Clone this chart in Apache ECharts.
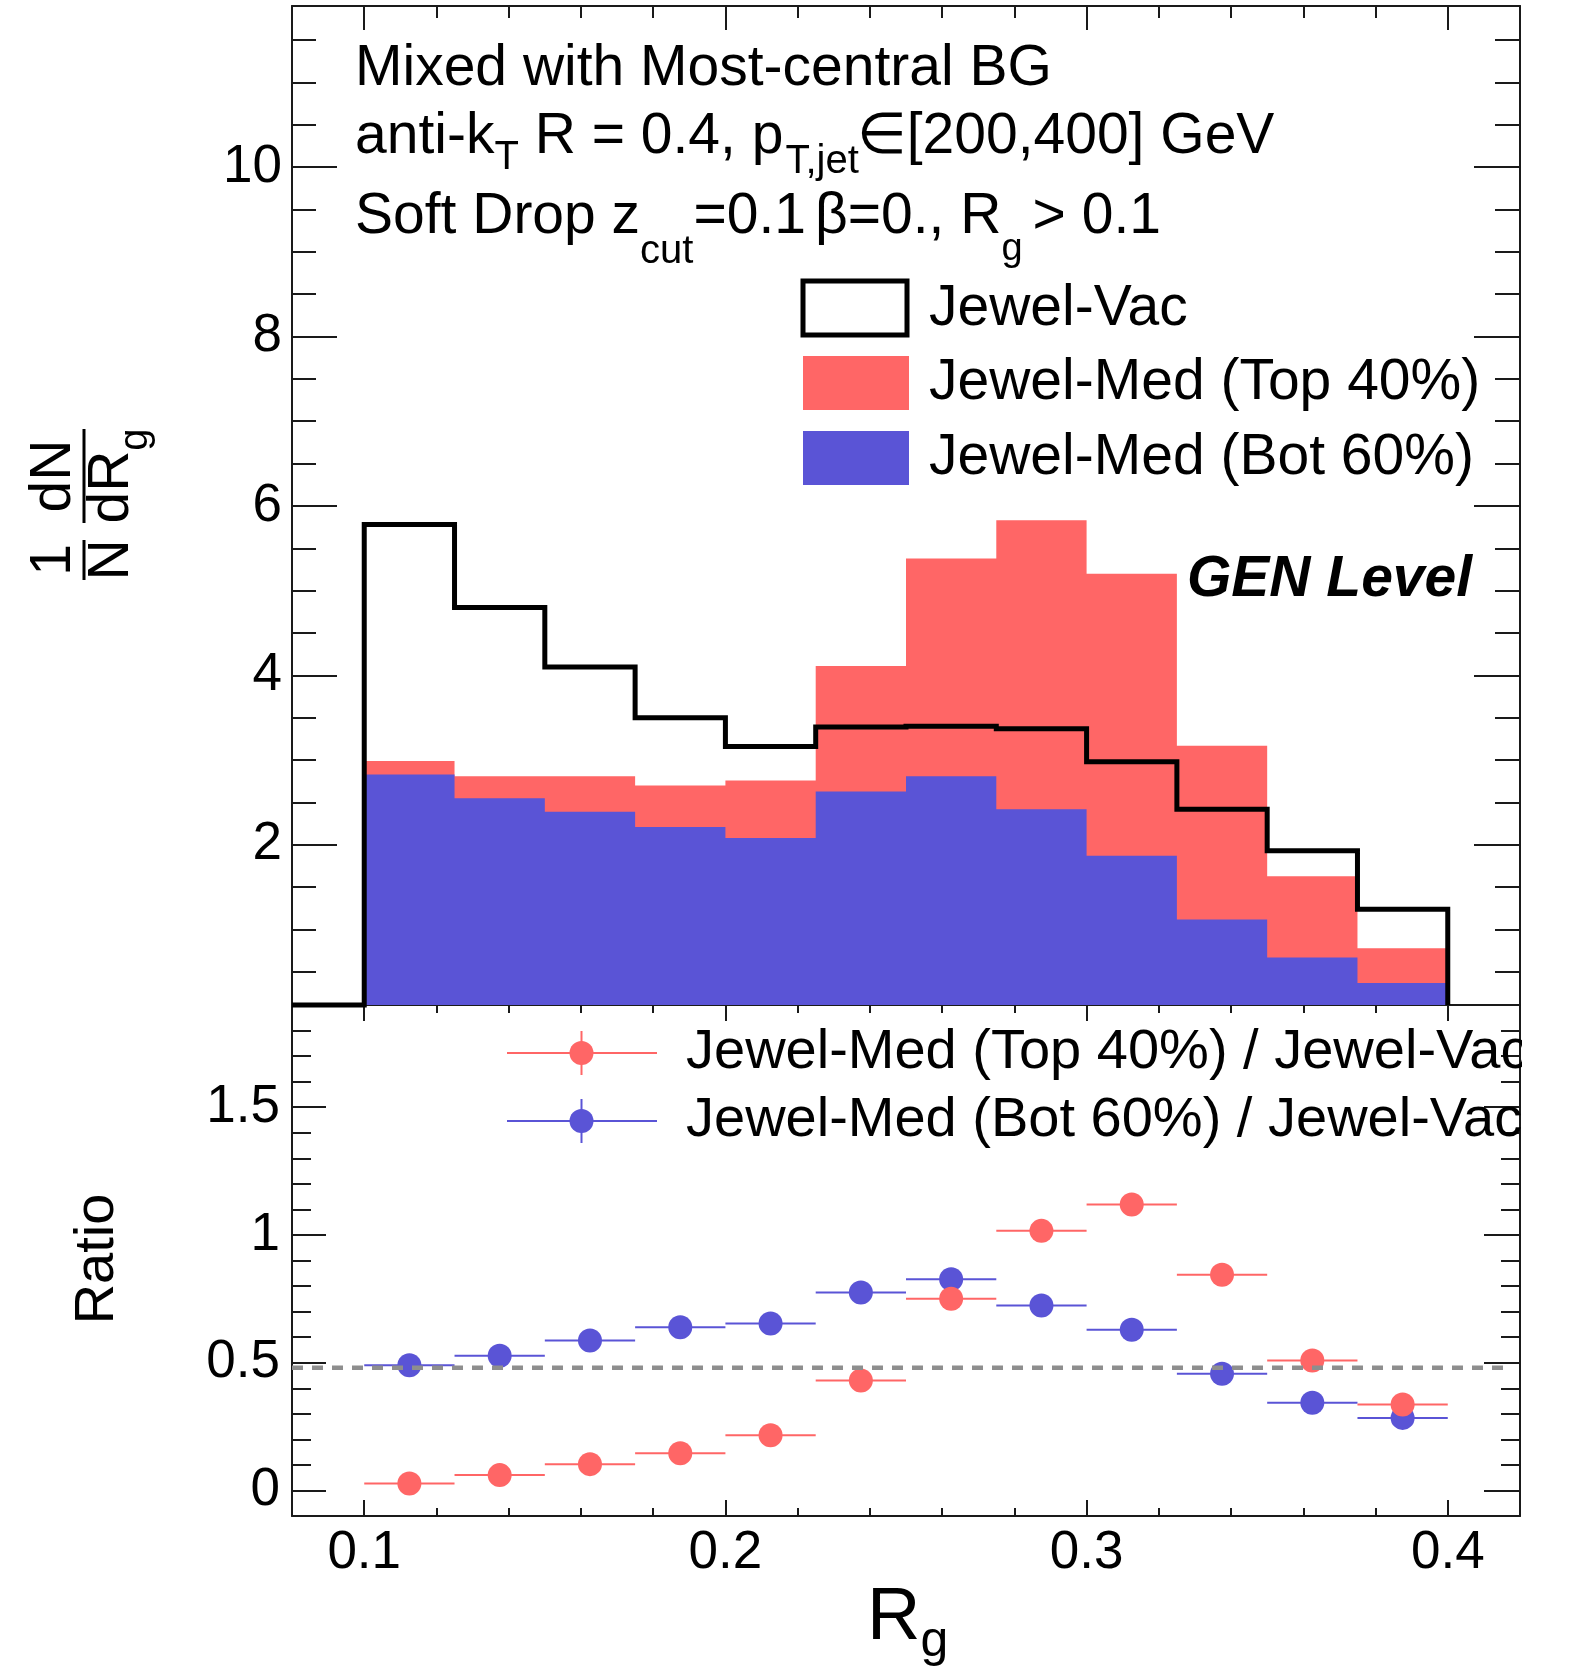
<!DOCTYPE html>
<html><head><meta charset="utf-8">
<script src="https://cdn.jsdelivr.net/npm/echarts@6/dist/echarts.min.js"></script>
<style>html,body{margin:0;padding:0;background:#fff}#c{width:1578px;height:1674px}</style>
</head><body><div id="c"></div>
<script>
// ---------------- DATA ----------------
const binEdges = [0.1, 0.125, 0.15, 0.175, 0.2, 0.225, 0.25, 0.275, 0.3, 0.325, 0.35, 0.375, 0.4];
const jewelVac      = [5.78, 4.80, 4.10, 3.50, 3.16, 3.39, 3.40, 3.37, 2.98, 2.42, 1.93, 1.24];
const jewelMedTop40 = [2.99, 2.81, 2.81, 2.70, 2.76, 4.11, 5.38, 5.83, 5.20, 3.17, 1.63, 0.78];
const jewelMedBot60 = [2.83, 2.55, 2.39, 2.21, 2.08, 2.63, 2.81, 2.42, 1.87, 1.12, 0.67, 0.37];
const ratioTop40 = [0.027, 0.060, 0.103, 0.146, 0.216, 0.430, 0.750, 1.016, 1.119, 0.844, 0.509, 0.336];
const ratioBot60 = [0.490, 0.527, 0.587, 0.639, 0.653, 0.775, 0.827, 0.724, 0.629, 0.457, 0.343, 0.284];
const refLineValue = 0.48;

const xTickLabels = [0.1, 0.2, 0.3, 0.4];
const xMinorTicks = [0.1, 0.12, 0.14, 0.16, 0.18, 0.2, 0.22, 0.24, 0.26, 0.28, 0.3, 0.32, 0.34, 0.36, 0.38, 0.4];
const yTopTickLabels = [2, 4, 6, 8, 10];
const yTopMinorTicks = [0.5, 1, 1.5, 2, 2.5, 3, 3.5, 4, 4.5, 5, 5.5, 6, 6.5, 7, 7.5, 8, 8.5, 9, 9.5, 10, 10.5, 11, 11.5];
const yRatioTickLabels = [0, 0.5, 1, 1.5];
const yRatioMinorTicks = [0, 0.1, 0.2, 0.3, 0.4, 0.5, 0.6, 0.7, 0.8, 0.9, 1, 1.1, 1.2, 1.3, 1.4, 1.5, 1.6, 1.7, 1.8];

const X_RANGE = [0.08, 0.42];
const Y_TOP_RANGE = [0.11, 11.9];
const Y_RATIO_RANGE = [-0.1, 1.9];

// ---------------- STYLE ----------------
const FONT = '"Liberation Sans", Arial, Helvetica, sans-serif';
const RED = '#ff6666', BLUE = '#5a54d6', FRAME = '#1a1a1a';
const mctx = document.createElement('canvas').getContext('2d');
function tw(t, size, weight, style) {
  mctx.font = (style || 'normal') + ' ' + (weight || 'normal') + ' ' + size + 'px ' + FONT;
  return mctx.measureText(t).width;
}
function txt(x, baseline, t, size, opts) {
  opts = opts || {};
  const fw = opts.weight || 'normal', fs = opts.style || 'normal';
  const k = opts.k !== undefined ? opts.k : 0.29;
  return {
    type: 'text', x: x, y: baseline - k * size, z: opts.z || 5, silent: true,
    style: {
      text: t, fill: '#000', font: fs + ' ' + fw + ' ' + size + 'px ' + FONT,
      fontSize: size, fontFamily: FONT, fontWeight: fw, fontStyle: fs,
      align: opts.align || 'left', verticalAlign: 'middle',
      textAlign: opts.align || 'left', textVerticalAlign: 'middle'
    }
  };
}
// segs: [text, size, dy, dxBefore]
function latexLine(x, baseline, segs) {
  const out = []; let cx = x;
  segs.forEach(function (s) {
    cx += (s[3] || 0);
    out.push(txt(cx, baseline + s[2], s[0], s[1]));
    cx += tw(s[0], s[1]);
  });
  return out;
}

// ---------------- AXES ----------------
function ax(gridIndex, position, range, o) {
  const isY = position === 'left' || position === 'right';
  return {
    type: 'value', gridIndex: gridIndex, position: position, min: range[0], max: range[1],
    splitLine: { show: false }, silent: true,
    axisLine: { show: !!o.line, onZero: false, lineStyle: { color: FRAME, width: 2 } },
    axisTick: o.ticks ? { show: true, inside: true, length: o.len, customValues: o.ticks, lineStyle: { color: FRAME, width: 2 } } : { show: false },
    axisLabel: o.labels ? { show: true, customValues: o.labels, fontFamily: FONT, fontSize: 53, color: '#000', margin: o.margin,
      padding: isY ? [7, 0, 0, 0] : [0, 0, 0, 0] } : { show: false }
  };
}
const xAxes = [
  ax(0, 'bottom', X_RANGE, { line: true }),
  ax(0, 'top', X_RANGE, { line: true, ticks: xTickLabels, len: 24 }),
  ax(0, 'top', X_RANGE, { ticks: xMinorTicks, len: 12 }),
  ax(1, 'bottom', X_RANGE, { line: true, ticks: xTickLabels, len: 16, labels: xTickLabels, margin: 11 }),
  ax(1, 'bottom', X_RANGE, { ticks: xMinorTicks, len: 8 }),
  ax(1, 'top', X_RANGE, { line: true, ticks: xTickLabels, len: 16 }),
  ax(1, 'top', X_RANGE, { ticks: xMinorTicks, len: 8 })
];
const yAxes = [
  ax(0, 'left', Y_TOP_RANGE, { line: true, ticks: yTopTickLabels, len: 45, labels: yTopTickLabels, margin: 10 }),
  ax(0, 'left', Y_TOP_RANGE, { ticks: yTopMinorTicks, len: 24 }),
  ax(0, 'right', Y_TOP_RANGE, { line: true, ticks: yTopTickLabels, len: 46 }),
  ax(0, 'right', Y_TOP_RANGE, { ticks: yTopMinorTicks, len: 25 }),
  ax(1, 'left', Y_RATIO_RANGE, { line: true, ticks: yRatioTickLabels, len: 34, labels: yRatioTickLabels, margin: 12 }),
  ax(1, 'left', Y_RATIO_RANGE, { ticks: yRatioMinorTicks, len: 19 }),
  ax(1, 'right', Y_RATIO_RANGE, { line: true, ticks: yRatioTickLabels, len: 36 }),
  ax(1, 'right', Y_RATIO_RANGE, { ticks: yRatioMinorTicks, len: 19 })
];

// ---------------- SERIES ----------------
function stepFill(values, color, z) {
  return {
    type: 'custom', xAxisIndex: 0, yAxisIndex: 0, z: z, silent: true,
    data: values.map(function (v, i) { return [binEdges[i], v]; }),
    encode: { x: 0, y: 1 },
    renderItem: function (params, api) {
      if (params.dataIndex !== 0) return null;
      const yb = Y_TOP_RANGE[0];
      const pts = [api.coord([binEdges[0], yb])];
      values.forEach(function (v, i) {
        pts.push(api.coord([binEdges[i], v]));
        pts.push(api.coord([binEdges[i + 1], v]));
      });
      pts.push(api.coord([binEdges[binEdges.length - 1], yb]));
      return { type: 'polygon', shape: { points: pts }, style: { fill: color } };
    }
  };
}
function stepLine(values, z) {
  return {
    type: 'custom', xAxisIndex: 0, yAxisIndex: 0, z: z, silent: true,
    data: values.map(function (v, i) { return [binEdges[i], v]; }),
    encode: { x: 0, y: 1 },
    renderItem: function (params, api) {
      if (params.dataIndex !== 0) return null;
      const cl = function (v) { return Math.min(Math.max(v, Y_TOP_RANGE[0]), Y_TOP_RANGE[1]); };
      const pts = [api.coord([X_RANGE[0], cl(0)]), api.coord([binEdges[0], cl(0)])];
      values.forEach(function (v, i) {
        pts.push(api.coord([binEdges[i], cl(v)]));
        pts.push(api.coord([binEdges[i + 1], cl(v)]));
      });
      pts.push(api.coord([binEdges[binEdges.length - 1], cl(0)]));
      return { type: 'polyline', shape: { points: pts }, style: { stroke: '#000', lineWidth: 5, fill: 'none', lineJoin: 'miter' } };
    }
  };
}
function errBars(values, color, z) {
  return {
    type: 'custom', xAxisIndex: 3, yAxisIndex: 4, z: z, silent: true,
    data: values.map(function (v, i) { return [binEdges[i], binEdges[i + 1], v]; }),
    encode: { x: [0, 1], y: 2 },
    renderItem: function (params, api) {
      const a = api.coord([api.value(0), api.value(2)]);
      const b = api.coord([api.value(1), api.value(2)]);
      return { type: 'line', shape: { x1: a[0], y1: a[1], x2: b[0], y2: b[1] }, style: { stroke: color, lineWidth: 2 } };
    }
  };
}
function points(values, color, z) {
  return {
    type: 'scatter', xAxisIndex: 3, yAxisIndex: 4, z: z, silent: true,
    symbol: 'circle', symbolSize: 24, itemStyle: { color: color, opacity: 1 },
    data: values.map(function (v, i) { return [(binEdges[i] + binEdges[i + 1]) / 2, v]; })
  };
}
const refLine = {
  type: 'custom', xAxisIndex: 3, yAxisIndex: 4, z: 20, silent: true,
  data: [[X_RANGE[0], refLineValue]], encode: { x: 0, y: 1 },
  renderItem: function (params, api) {
    const a = api.coord([X_RANGE[0], refLineValue]);
    const b = api.coord([X_RANGE[1], refLineValue]);
    return { type: 'line', shape: { x1: a[0], y1: a[1], x2: b[0] - 12, y2: b[1] }, style: { stroke: '#8e8e8e', lineWidth: 4.5, lineDash: [11, 9] } };
  }
};

// ---------------- GRAPHIC (texts, legends) ----------------
const G = [];
G.push(txt(355, 86, 'Mixed with Most-central BG', 57));
latexLine(355, 154, [['anti-k', 57, 0], ['T', 40, 16], [' R = 0.4, p', 57, 0], ['T,jet', 40, 20, 2], ['\u2208[200,400] GeV', 57, 0, -2]]).forEach(function (e) { G.push(e); });
latexLine(355, 234, [['Soft Drop z', 57, 0], ['cut', 40, 30], ['=0.1', 57, 0], ['\u03b2=0., R', 57, 0, 9], ['g', 38, 27], ['> 0.1', 57, 0, 10]]).forEach(function (e) { G.push(e); });
G.push(txt(1187, 597, 'GEN Level', 57, { weight: 'bold', style: 'italic' }));

// top legend
G.push({ type: 'rect', z: 5, silent: true, shape: { x: 803, y: 281, width: 104, height: 54 }, style: { fill: '#fff', stroke: '#000', lineWidth: 5 } });
G.push({ type: 'rect', z: 5, silent: true, shape: { x: 803, y: 356, width: 106, height: 54 }, style: { fill: RED } });
G.push({ type: 'rect', z: 5, silent: true, shape: { x: 803, y: 431, width: 106, height: 54 }, style: { fill: BLUE } });
G.push(txt(929, 326, 'Jewel-Vac', 57));
G.push(txt(929, 400, 'Jewel-Med (Top 40%)', 57));
G.push(txt(929, 475, 'Jewel-Med (Bot 60%)', 57));

// ratio legend
[[1053, RED, 1069, 'Jewel-Med (Top 40%) / Jewel-Vac'], [1121, BLUE, 1137, 'Jewel-Med (Bot 60%) / Jewel-Vac']].forEach(function (r) {
  G.push({ type: 'line', z: 5, silent: true, shape: { x1: 507, y1: r[0], x2: 657, y2: r[0] }, style: { stroke: r[1], lineWidth: 2 } });
  G.push({ type: 'line', z: 5, silent: true, shape: { x1: 581.5, y1: r[0] - 22, x2: 581.5, y2: r[0] + 22 }, style: { stroke: r[1], lineWidth: 2 } });
  G.push({ type: 'circle', z: 6, silent: true, shape: { cx: 581.5, cy: r[0], r: 12 }, style: { fill: r[1] } });
  G.push(txt(686, r[2], r[3], 56));
});
// pad clipping of overflowing legend text
G.push({ type: 'rect', z: 10, silent: true, shape: { x: 1522, y: 1015, width: 56, height: 150 }, style: { fill: '#fff' } });

// y-axis title (rotated fraction)
const K0 = { k: 0.35 };
G.push({
  type: 'group', x: 84, y: 476, rotation: Math.PI / 2, silent: true, z: 5,
  children: [
    { type: 'line', shape: { x1: -47, y1: 0, x2: 47, y2: 0 }, style: { stroke: '#000', lineWidth: 3 } },
    txt(0, -10, 'dN', 57, { align: 'center', k: 0.35 }),
    txt(-47.5, 48, 'dR', 57, K0),
    txt(-47.5 + tw('dR', 57), 66, 'g', 40, K0),
    { type: 'line', shape: { x1: -104, y1: 0, x2: -64, y2: 0 }, style: { stroke: '#000', lineWidth: 3 } },
    txt(-84, -10, '1', 57, { align: 'center', k: 0.35 }),
    txt(-84, 48, 'N', 57, { align: 'center', k: 0.35 })
  ]
});
G.push({
  type: 'group', x: 117, y: 1259, rotation: Math.PI / 2, silent: true, z: 5,
  children: [txt(0, 0, 'Ratio', 56, { align: 'center', k: 0.35 })]
});
// x-axis title
G.push(txt(867, 1644, 'R', 74, K0));
G.push(txt(867 + tw('R', 74), 1660, 'g', 50, K0));

const option = {
  animation: false,
  backgroundColor: '#fff',
  grid: [
    { left: 292, top: 6, width: 1228, height: 999, containLabel: false },
    { left: 292, top: 1005, width: 1228, height: 511, containLabel: false }
  ],
  xAxis: xAxes,
  yAxis: yAxes,
  series: [
    stepFill(jewelVac, '#ffffff', 1),
    stepFill(jewelMedTop40, RED, 2),
    stepFill(jewelMedBot60, BLUE, 3),
    stepLine(jewelVac, 4),
    errBars(ratioBot60, BLUE, 5),
    points(ratioBot60, BLUE, 6),
    errBars(ratioTop40, RED, 7),
    points(ratioTop40, RED, 8),
    refLine
  ],
  graphic: G
};
const chart = echarts.init(document.getElementById('c'), null, { renderer: 'canvas' });
chart.setOption(option);
</script></body></html>
